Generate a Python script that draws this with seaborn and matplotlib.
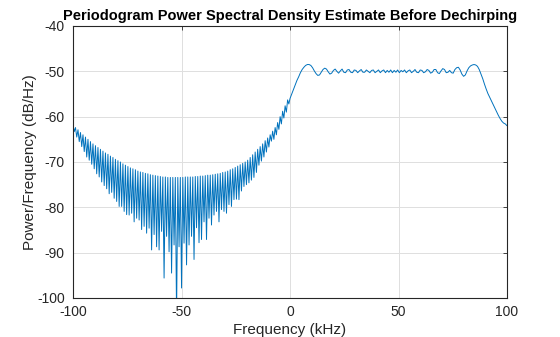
import numpy as np
import pandas as pd
import matplotlib
matplotlib.use("Agg")
import matplotlib.pyplot as plt
import seaborn as sns

# ---- data (dB/Hz) ----
# left band (chirp out of band): alternating spike tops and spike bottoms, -100 .. -0.5 kHz
left_peaks_db = [
    -61.8, -62.4, -62.9, -63.5, -64.0, -64.5, -65.0, -65.5, -66.0, -66.4,
    -66.8, -67.2, -67.6, -68.0, -68.3, -68.7, -69.0, -69.4, -69.7, -70.0,
    -70.4, -70.7, -71.0, -71.3, -71.5, -71.7, -72.0, -72.2, -72.3, -72.5,
    -72.6, -72.8, -72.9, -73.0, -73.1, -73.2, -73.3, -73.3, -73.4, -73.4,
    -73.4, -73.4, -73.4, -73.4, -73.4, -73.3, -73.3, -73.3, -73.3, -73.2,
    -73.2, -73.1, -73.1, -73.0, -72.9, -72.9, -72.8, -72.7, -72.6, -72.5,
    -72.3, -72.2, -72.0, -71.7, -71.5, -71.2, -70.9, -70.6, -70.3, -70.0,
    -69.6, -69.0, -68.4, -67.8, -67.2, -66.6, -66.0, -65.3, -64.7, -64.0,
    -63.2, -62.4, -61.3, -60.0, -58.8, -57.6, -56.3,
]
left_troughs_db = [
    -63.3, -64.5, -65.5, -66.6, -67.7, -68.9, -69.6, -70.5, -71.5, -72.6,
    -73.3, -74.4, -75.2, -75.9, -77.0, -76.7, -78.0, -78.7, -79.8, -79.8,
    -80.9, -81.6,
    -81.7, -81.3, -83.2, -82.4, -82.8, -84.9, -84.2, -85.7, -84.6, -89.4,
    -86.0, -88.7, -89.4, -85.3, -95.6, -86.4, -89.8, -94.5, -88.3, -104.0,
    -88.7, -97.8, -87.9,
    -92.7, -88.3, -86.4, -91.5, -84.5, -87.8, -87.1, -83.2, -87.1, -82.4,
    -83.9, -81.7, -80.9, -83.2, -80.5, -80.9, -81.3, -79.4, -79.8, -78.3,
    -78.2, -78.3, -76.4,
    -75.4, -75.0, -74.6, -74.0, -73.4, -72.3, -70.7, -69.8, -68.9, -67.8,
    -66.7, -65.4, -65.0, -64.0, -62.8, -61.6, -60.3, -59.0, -57.2,
]
# right band (chirp in band), 0 .. 100 kHz
right_db = [
    -56.0, -55.0, -54.0, -53.0, -52.0, -51.2, -50.3, -49.6, -49.1, -48.7,
    -48.5, -48.5, -48.7, -49.2, -49.9, -50.5, -50.9, -50.8, -50.2, -49.6,
    -49.3, -49.5, -50.1, -50.6, -50.4, -49.8, -49.5, -50.0, -50.4, -49.9,
    -49.5, -50.2, -50.3, -49.7, -49.6, -50.2, -50.3, -49.7, -49.8, -50.3,
    -49.9, -49.6, -50.2, -50.2, -49.7, -50.0, -50.3, -49.8, -49.7, -50.3,
    -50.0, -49.7, -50.3, -49.9, -49.7, -50.3, -49.8, -50.2, -49.7, -50.3,
    -49.8, -50.2, -49.7, -50.3, -49.8, -50.1, -49.7, -50.3, -49.9, -49.7,
    -50.3, -50.0, -49.6, -50.2, -50.3, -49.7, -49.8, -50.3, -50.1, -49.6,
    -49.8, -50.4, -50.2, -49.6, -49.6, -50.3, -50.5, -49.9, -49.4, -49.6,
    -50.3, -50.2, -49.8, -50.3, -50.4, -49.6, -49.2, -49.1, -49.7, -50.6,
    -51.1, -50.8, -49.9, -49.2, -48.8, -48.6, -48.5, -48.6, -48.9, -49.6,
    -50.6, -51.6, -52.8, -53.9, -54.9, -55.7, -56.5, -57.3, -58.1, -58.9,
    -59.7, -60.4, -61.0, -61.4, -61.6, -62.0,
]
x_ticks = [-100, -50, 0, 50, 100]
y_ticks = [-100, -90, -80, -70, -60, -50, -40]

# frequency bins
left_db = [v for pair in zip(left_peaks_db, left_troughs_db) for v in pair]
freq_left = np.linspace(-100, -0.525, len(left_db))
freq_right = np.linspace(0, 100, len(right_db))
df = pd.DataFrame({
    "freq": np.concatenate([freq_left, freq_right]),
    "psd": np.concatenate([left_db, right_db]),
})

sns.set_theme(style="white")
plt.rcParams["font.family"] = ["Liberation Sans", "DejaVu Sans"]

fig = plt.figure(figsize=(5.6, 3.37), dpi=100)
ax = fig.add_axes([73 / 560, 1 - 298 / 337, 434 / 560, 272 / 337])

sns.lineplot(data=df, x="freq", y="psd", ax=ax, color="#0072BD",
             linewidth=0.7, estimator=None, sort=False)

ax.set_xlim(-100, 100)
ax.set_ylim(-100, -40)
ax.set_xticks(x_ticks)
ax.set_yticks(y_ticks)
ax.set_xticklabels([str(t) for t in x_ticks])
ax.set_yticklabels([str(t) for t in y_ticks])
ax.grid(True, color="#dfdfdf", linewidth=0.7)
ax.set_axisbelow(True)
for s in ax.spines.values():
    s.set_color("#262626")
    s.set_linewidth(0.8)
ax.tick_params(direction="in", length=3, width=0.6, colors="#262626",
               labelsize=10, top=True, right=True)
ax.tick_params(axis="x", pad=5)
ax.tick_params(axis="y", pad=6)
ax.set_xlabel("Frequency (kHz)", fontsize=11, color="#262626", labelpad=3)
ax.set_ylabel("Power/Frequency (dB/Hz)", fontsize=11, color="#262626", labelpad=0)
ax.set_title("Periodogram Power Spectral Density Estimate Before Dechirping",
             fontsize=10.5, fontweight="bold", color="#000000", pad=4)

fig.savefig("out.png", dpi=100, facecolor="white")
